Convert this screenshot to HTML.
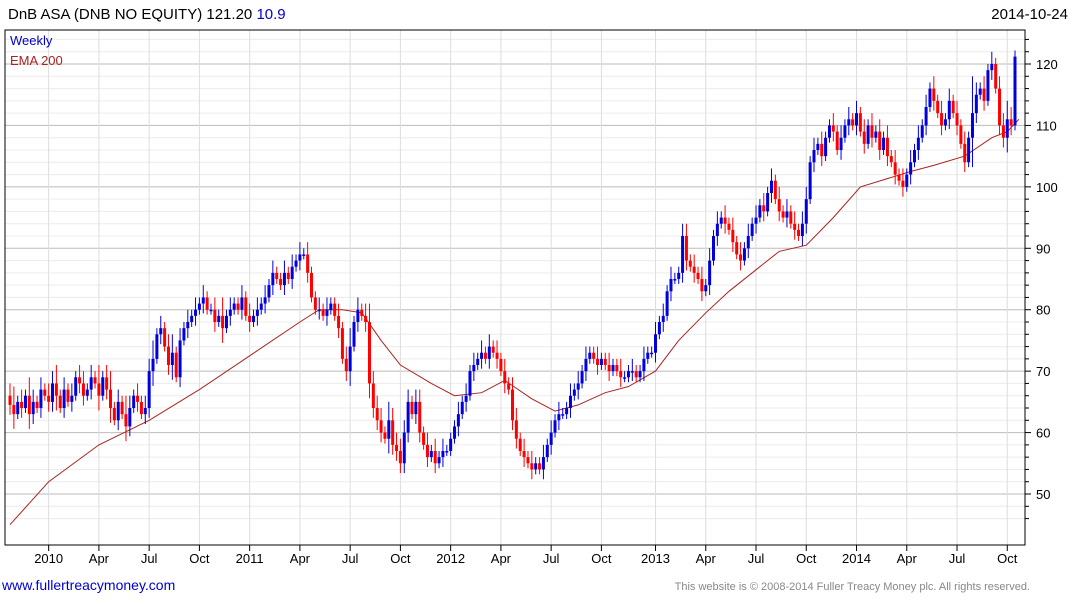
<!DOCTYPE html>
<html><head><meta charset="utf-8"><style>
body{margin:0;background:#fff;font-family:"Liberation Sans",sans-serif;}
svg text{font-family:"Liberation Sans",sans-serif;}
</style></head><body>
<svg id="chart" width="1075" height="600" xmlns="http://www.w3.org/2000/svg">
<rect x="0" y="0" width="1075" height="600" fill="#fff"/>
<g id="grid"></g>
<g id="ema"></g>
<g id="candles"></g>
<rect x="5" y="30" width="1020" height="515" fill="none" stroke="#000" stroke-width="1"/>
<g id="axes"></g>
<text x="8" y="19" font-size="15" fill="#000">DnB ASA (DNB NO EQUITY) 121.20 <tspan fill="#0000cc">10.9</tspan></text>
<text x="1068" y="19" font-size="15" fill="#000" text-anchor="end">2014-10-24</text>
<text x="10" y="45" font-size="13" fill="#0000cc">Weekly</text>
<text x="10" y="65" font-size="13" fill="#aa2222">EMA 200</text>
<text x="2" y="590" font-size="14" fill="#0000cc">www.fullertreacymoney.com</text>
<text x="1030" y="590" font-size="11" fill="#888" text-anchor="end">This website is © 2008-2014 Fuller Treacy Money plc. All rights reserved.</text>
</svg>
<script>
const closes=[64.5,63,65,64,66,63,65,64,67,66,65,
68,66,64,67,65,66,69,68,66,67,69,68,66,
69,67,64,62,65,63,61,64,66,65,63,64,70,
72,76,77,74,71,73,69,75,77,78,79,80,81,
82,80,80,78,79,77,79,80,81,80,82,79,78,
79,80,81,82,84,86,85,84,86,85,87,88,89,
89,86,82,80,80,79,80,81,79,77,72,70,74,
78,80,79,78,68,64,62,60,59,62,58,57,55,
60,65,63,65,60,58,56,57,55,56,57,57,59,
61,63,65,66,70,71,72,73,72,74,73,72,70,
68,67,62,59,57,56,55,54,55,54,56,58,60,
62,63,63,64,66,67,68,70,72,73,72,71,72,
71,70,71,70,69,69,70,70,69,70,72,73,73,
76,78,79,83,85,85,86,92,88,87,86,85,83,
84,88,92,94,95,94,93,91,89,88,90,92,94,
95,97,96,99,101,98,96,95,96,94,93,92,94,
98,104,106,107,105,108,110,109,106,108,110,111,110,
112,109,107,110,108,109,106,108,105,104,102,101,100,
102,104,106,108,110,113,116,114,112,110,111,114,112,
110,107,104,108,112,115,116,114,119,120,116,110,108,
111,110,121.2];
const wicks=[2,3,1,2,1,3,2,1,2,1,2, 2,3,1,2,1,2,1,2,2,1,2,1,3, 1,2,3,1,2,1,3,2,1,2,1,2,2, 3,1,2,1,2,3,1,2,1,2,1,2,1, 2,1,1,2,1,3,1,2,1,1,2,1,2, 1,2,1,2,1,2,1,1,2,1,2,1,2, 1,2,1,1,2,1,2,1,1,2,1,2,3, 1,2,1,2,3,2,2,2,1,3,2,2,2, 2,2,1,2,2,1,2,1,2,1,2,1,1, 1,2,1,2,1,2,1,2,1,2,1,2,1, 2,1,2,2,1,2,1,2,1,1,2,1,2, 1,2,1,1,2,1,2,1,2,1,1,2,1, 1,2,1,1,2,1,1,2,1,1,2,1,1, 2,1,2,1,2,1,1,2,2,1,2,1,2, 1,2,1,2,1,2,1,2,1,2,1,2,1, 2,1,2,1,2,1,2,1,2,1,2,1,2, 2,1,2,1,2,1,1,2,1,2,1,2,1, 2,1,2,1,2,1,2,1,2,1,2,1,2, 1,2,1,2,1,2,1,2,1,2,1,2,1, 2,1,2,1,6,2,1,2,1,2,1,2,2, 3,2,1];
const emaWeeks=[0,10,23,36,49,62,75,80,86,91,96,101,109,115,122,128,135,141,147,154,160,167,173,180,186,193,199,206,213,220,233,239,247,254,258,261];
const emaVals=[45,52,58,62,67,72.5,78,80,80,79.5,75,71,68,66,66.5,68.5,65.5,63.5,64.5,66.5,67.5,70,75,79.5,83,86.5,89.5,90.5,95,100,102.5,103.5,105,108,109,111];
const yTicks=[50,60,70,80,90,100,110,120];
const xLabels=["2010","Apr","Jul","Oct","2011","Apr","Jul","Oct","2012","Apr","Jul","Oct","2013","Apr","Jul","Oct","2014","Apr","Jul","Oct"];
const xLabelWeeks=[10,23,36,49,62,75,88,101,114,127,140,153,167,180,193,206,219,232,245,258];

const NS="http://www.w3.org/2000/svg";
const n=closes.length;
function xPos(i){return 10+i*(1005/(n-1));}
function yPos(v){return 64+(120-v)*6.143;}
function mk(tag,attrs,parent){const e=document.createElementNS(NS,tag);for(const k in attrs)e.setAttribute(k,attrs[k]);parent.appendChild(e);return e;}
const grid=document.getElementById('grid'),axes=document.getElementById('axes'),cg=document.getElementById('candles'),eg=document.getElementById('ema');
// minor horizontal grid
for(let v=46;v<=124;v+=2){const y=yPos(v);if(y<30||y>545)continue;
 const l=mk('line',{x1:5,x2:1025,y1:y,y2:y,stroke:v%10===0?'#bbb':'#ececec','stroke-width':1},grid);
 
 
 const t=mk('line',{x1:1025,x2:v%10===0?1031:1029,y1:y,y2:y,stroke:'#000'},axes);
 
 
}
yTicks.forEach(v=>{const t=mk('text',{x:1036,y:yPos(v)+5,'font-size':13,fill:'#000'},axes);t.textContent=v;
 
 });
xLabels.forEach((lab,k)=>{const x=xPos(xLabelWeeks[k]);
 const l=mk('line',{x1:x,x2:x,y1:30,y2:545,stroke:'#ddd'},grid);
 
 
 const tk=mk('line',{x1:x,x2:x,y1:545,y2:551,stroke:'#000'},axes);
 
 
 const t=mk('text',{x:x,y:563,'font-size':13,'text-anchor':'middle',fill:'#000'},axes);t.textContent=lab;
 
 });
// ema
let d='';emaWeeks.forEach((w,k)=>{d+=(k?'L':'M')+xPos(w).toFixed(1)+','+yPos(emaVals[k]).toFixed(1);});
const ep=mk('path',{d:d,fill:'none',stroke:'#aa2222','stroke-width':1},eg);


// candles
for(let i=0;i<n;i++){
 const o=i?closes[i-1]:66,c=closes[i],w=wicks[i];
 const hi=Math.max(o,c)+w,lo=Math.min(o,c)-w*0.8;
 const col=c>=o?'#0000dd':'#ff0000';const x=xPos(i);
 const wl=mk('line',{x1:x,x2:x,y1:yPos(hi),y2:yPos(lo),stroke:col,'stroke-width':1},cg);
 
 
 const top=yPos(Math.max(o,c)),h=Math.max(1.5,yPos(Math.min(o,c))-top);
 const r=mk('rect',{x:x-1.5,y:top,width:3,height:h,fill:col},cg);
 
 
}
</script>
</body></html>
